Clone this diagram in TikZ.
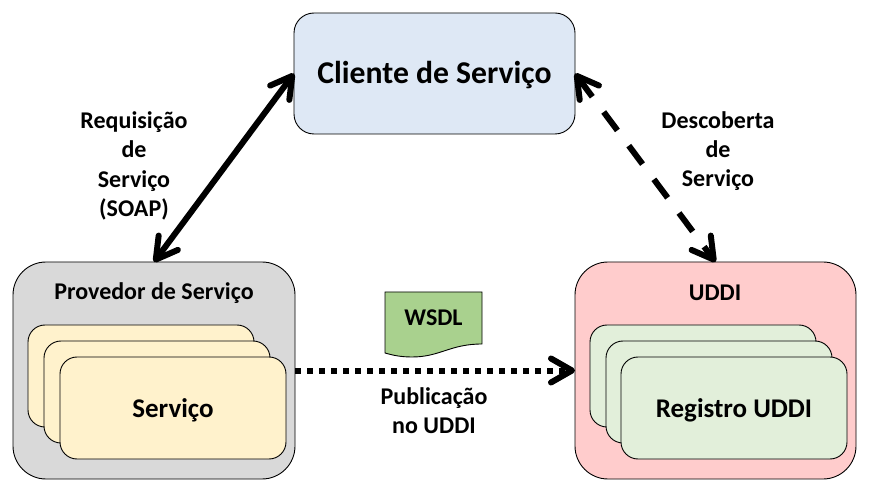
\documentclass[tikz,border=0pt]{standalone}
\usepackage{fontspec}
\setmainfont{Carlito}
\usetikzlibrary{arrows.meta,positioning}
\definecolor{clientblue}{HTML}{DEE8F5}
\definecolor{provgray}{HTML}{D9D9D9}
\definecolor{uddipink}{HTML}{FFCCCC}
\definecolor{cardyellow}{HTML}{FFF2CC}
\definecolor{cardgreen}{HTML}{E2EFDA}
\definecolor{wsdlgreen}{HTML}{A9D18E}
\newcommand{\lowered}[2]{\raisebox{-#1}[0pt][0pt]{#2}}
\tikzset{
  px/.style={x=1pt,y=-1pt},
  barb/.tip={Straight Barb[length=21pt,width=24pt,line width=6pt,round]},
  boxbase/.style={draw=black,line width=0.9pt,inner sep=0pt,outer sep=0pt,anchor=north west,font=\bfseries},
  bigbox/.style={boxbase,rounded corners=33pt,minimum width=#1,minimum height=217pt},
  clientbox/.style={boxbase,rounded corners=20pt,fill=clientblue,minimum width=281pt,minimum height=121pt,font=\bfseries\fontsize{31.7}{36}\selectfont},
  cardbox/.style={boxbase,rounded corners=17pt,minimum width=226pt,minimum height=102pt,font=\bfseries\fontsize{27}{32}\selectfont},
  lbl/.style={font=\bfseries\fontsize{24}{29.3}\selectfont,align=center,inner sep=0pt},
  ttl/.style={font=\bfseries\fontsize{24}{28}\selectfont,inner sep=0pt},
  conn/.style={line width=6pt,barb-barb},
}
\begin{document}
\begin{tikzpicture}[px]
\useasboundingbox (0,0) rectangle (871,497);
\fill[white] (0,0) rectangle (871,497);
\node[clientbox] (client) at (294,13) {\lowered{10.5pt}{Cliente de Serviço}};
\node[bigbox=282pt,fill=provgray] (prov) at (13,262) {};
\node[bigbox=281pt,fill=uddipink] (uddi) at (575,262) {};
\node[ttl] (provt) at (154,293) {Provedor de Serviço};
\node[ttl] (uddit) at (715,293) {UDDI};
\node[cardbox,fill=cardyellow] (s1) at (28,325) {};
\node[cardbox,fill=cardyellow] (s2) at (44,341) {};
\node[cardbox,fill=cardyellow] (s3) at (60,357) {\lowered{9.5pt}{Serviço}};
\node[cardbox,fill=cardgreen] (r1) at (590,325) {};
\node[cardbox,fill=cardgreen] (r2) at (606,341) {};
\node[cardbox,fill=cardgreen] (r3) at (621,357) {\lowered{9.5pt}{Registro UDDI}};
\draw[line width=0.9pt,fill=wsdlgreen] (385,292) -- (482,292) -- (482,344)
  .. controls (450,344) and (440,357) .. (412,357)
  .. controls (400,357) and (392,355) .. (385,353) -- cycle;
\node[ttl] (wsdl) at (433.5,318) {WSDL};
\node[lbl] (req) at (134,166) {Requisição\\de\\Serviço\\(SOAP)};
\node[lbl] (desc) at (718,151) {Descoberta\\de\\Serviço};
\node[lbl] (pub) at (434,411) {Publicação\\no UDDI};
\draw[conn] (prov.north) -- (client.west);
\draw[conn,dash pattern=on 23pt off 19pt] (client.east) -- (uddi.north);
\draw[line width=6pt,dash pattern=on 6pt off 6pt,-barb] (prov.east) -- (uddi.west);
\end{tikzpicture}
\end{document}
